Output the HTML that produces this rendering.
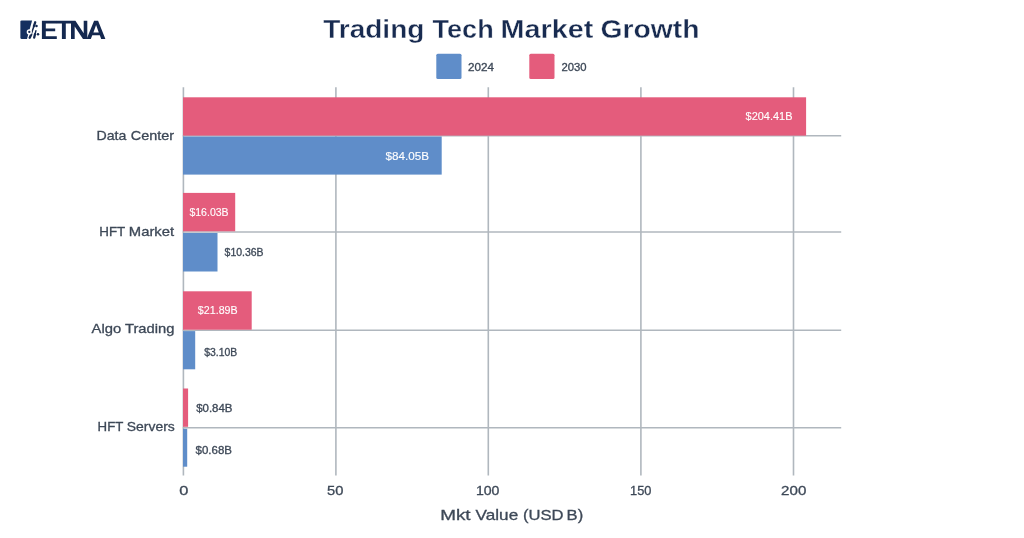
<!DOCTYPE html>
<html>
<head>
<meta charset="utf-8">
<title>Trading Tech Market Growth</title>
<style>
html,body{margin:0;padding:0;background:#fff;}
body{width:1024px;height:538px;overflow:hidden;font-family:"Liberation Sans",sans-serif;}
svg{display:block;will-change:transform;}
text{font-family:"Liberation Sans",sans-serif;}
</style>
</head>
<body>
<svg width="1024" height="538" viewBox="0 0 1024 538">
  <rect x="0" y="0" width="1024" height="538" fill="#ffffff"/>
  <g id="logo" fill="#14284f">
    <path d="M21.7 20.4 H32.1 L27.0 39.0 H21.7 Q20.4 39.0 20.4 37.8 V21.6 Q20.4 20.4 21.7 20.4 Z" fill="#15305f"/>
    <g stroke="#14284f" stroke-linecap="round" fill="none">
      <path d="M35.2 22.3 L33.9 26.2" stroke-width="2.3"/>
      <path d="M33.9 26.2 L31.2 34.2" stroke-width="1.5"/>
      <path d="M31.2 34.4 L29.7 37.7" stroke-width="2.4"/>
      <path d="M35.9 30.8 L35.0 34.2" stroke-width="1.4"/>
      <path d="M35.0 34.2 L34.2 37.6" stroke-width="2.3"/>
    </g>
    <circle cx="29.3" cy="31.9" r="2.6" fill="#ffffff"/>
    <circle cx="29.3" cy="31.9" r="1.15"/>
    <circle cx="36.5" cy="26.1" r="1.25"/>
    <circle cx="38.0" cy="34.3" r="1.25"/>
    <path d="M41.9 20.7 H57 V23.6 H45.8 V28.4 H55.2 V31.2 H45.8 V36.2 H56.8 V39 H41.9 Z"/>
    <path d="M56.9 20.7 H71.1 V23.6 H65.8 V39 H61.9 V23.6 H56.9 Z"/>
    <path d="M71 20.7 H75.4 L83.7 33.2 V20.7 H87.3 V39 H83.0 L74.7 26.6 V39 H71 Z"/>
    <path fill-rule="evenodd" d="M86.6 39 L94.1 20.7 H98.1 L105.4 39 H101.2 L99.8 35.2 H92.3 L90.8 39 Z M93.4 32.4 H98.8 L96.1 24.9 Z"/>
  </g>
  <rect x="436.3" y="53.8" width="25.2" height="25.2" rx="1.5" fill="#5f8dc9"/>
  <rect x="529.3" y="53.8" width="25.2" height="25.2" rx="1.5" fill="#e45c7c"/>
  <g stroke="#b0b7be" stroke-width="1.6" fill="none">
    <line x1="183.4" y1="87.3" x2="183.4" y2="475.6"/>
    <line x1="335.9" y1="87.3" x2="335.9" y2="475.6"/>
    <line x1="488.3" y1="87.3" x2="488.3" y2="475.6"/>
    <line x1="640.9" y1="87.3" x2="640.9" y2="475.6"/>
    <line x1="793.5" y1="87.3" x2="793.5" y2="475.6"/>
    <line x1="182.8" y1="135.75" x2="841.2" y2="135.75"/>
    <line x1="182.8" y1="232.0" x2="841.2" y2="232.0"/>
    <line x1="182.8" y1="330.3" x2="841.2" y2="330.3"/>
    <line x1="182.8" y1="427.8" x2="841.2" y2="427.8"/>
  </g>
  <g>
    <rect x="183.0" y="97.3" width="623.1" height="38.3" fill="#e45c7c"/>
    <rect x="183.0" y="136.5" width="258.7" height="38.1" fill="#5f8dc9"/>
    <rect x="183.0" y="192.9" width="52.2" height="38.4" fill="#e45c7c"/>
    <rect x="183.0" y="233.0" width="34.5" height="38.5" fill="#5f8dc9"/>
    <rect x="183.0" y="291.3" width="68.7" height="38.4" fill="#e45c7c"/>
    <rect x="183.0" y="331.1" width="12.2" height="38.2" fill="#5f8dc9"/>
    <rect x="183.0" y="388.5" width="5.1" height="38.3" fill="#e45c7c"/>
    <rect x="183.0" y="428.8" width="4.2" height="37.9" fill="#5f8dc9"/>
  </g>
  <text x="323.23" y="38.0" font-size="26.5" font-weight="bold" fill="#182b50" textLength="101.14" lengthAdjust="spacingAndGlyphs" stroke="#ffffff" stroke-width="0.35">Trading</text>
  <text x="432.56" y="38.0" font-size="26.5" font-weight="bold" fill="#182b50" textLength="61.17" lengthAdjust="spacingAndGlyphs" stroke="#ffffff" stroke-width="0.35">Tech</text>
  <text x="500.55" y="38.0" font-size="26.5" font-weight="bold" fill="#182b50" textLength="92.77" lengthAdjust="spacingAndGlyphs" stroke="#ffffff" stroke-width="0.35">Market</text>
  <text x="600.44" y="38.0" font-size="26.5" font-weight="bold" fill="#182b50" textLength="99.12" lengthAdjust="spacingAndGlyphs" stroke="#ffffff" stroke-width="0.35">Growth</text>
  <text x="468.01" y="70.9" font-size="10.2" fill="#3d4857" textLength="25.93" lengthAdjust="spacingAndGlyphs" stroke="#3d4857" stroke-width="0.3">2024</text>
  <text x="561.49" y="70.9" font-size="10.2" fill="#3d4857" textLength="25.08" lengthAdjust="spacingAndGlyphs" stroke="#3d4857" stroke-width="0.3">2030</text>
  <text x="96.55" y="140.0" font-size="13" fill="#3d4857" textLength="29.87" lengthAdjust="spacingAndGlyphs" stroke="#3d4857" stroke-width="0.3">Data</text>
  <text x="130.81" y="140.0" font-size="13" fill="#3d4857" textLength="43.31" lengthAdjust="spacingAndGlyphs" stroke="#3d4857" stroke-width="0.3">Center</text>
  <text x="99.34" y="235.8" font-size="13" fill="#3d4857" textLength="25.94" lengthAdjust="spacingAndGlyphs" stroke="#3d4857" stroke-width="0.3">HFT</text>
  <text x="128.82" y="235.8" font-size="13" fill="#3d4857" textLength="45.28" lengthAdjust="spacingAndGlyphs" stroke="#3d4857" stroke-width="0.3">Market</text>
  <text x="91.63" y="333.4" font-size="13" fill="#3d4857" textLength="29.58" lengthAdjust="spacingAndGlyphs" stroke="#3d4857" stroke-width="0.3">Algo</text>
  <text x="125.00" y="333.4" font-size="13" fill="#3d4857" textLength="49.42" lengthAdjust="spacingAndGlyphs" stroke="#3d4857" stroke-width="0.3">Trading</text>
  <text x="97.62" y="431.3" font-size="13" fill="#3d4857" textLength="25.72" lengthAdjust="spacingAndGlyphs" stroke="#3d4857" stroke-width="0.3">HFT</text>
  <text x="126.80" y="431.3" font-size="13" fill="#3d4857" textLength="47.93" lengthAdjust="spacingAndGlyphs" stroke="#3d4857" stroke-width="0.3">Servers</text>
  <text x="745.64" y="120.1" font-size="10.2" fill="#ffffff" textLength="46.84" lengthAdjust="spacingAndGlyphs" stroke="#ffffff" stroke-width="0.12">$204.41B</text>
  <text x="385.48" y="159.7" font-size="10.2" fill="#ffffff" textLength="43.49" lengthAdjust="spacingAndGlyphs" stroke="#ffffff" stroke-width="0.12">$84.05B</text>
  <text x="189.42" y="215.9" font-size="10.2" fill="#ffffff" textLength="39.23" lengthAdjust="spacingAndGlyphs" stroke="#ffffff" stroke-width="0.12">$16.03B</text>
  <text x="224.61" y="256.1" font-size="10.2" fill="#3d4857" textLength="38.96" lengthAdjust="spacingAndGlyphs" stroke="#3d4857" stroke-width="0.3">$10.36B</text>
  <text x="197.87" y="314.4" font-size="10.2" fill="#ffffff" textLength="39.77" lengthAdjust="spacingAndGlyphs" stroke="#ffffff" stroke-width="0.12">$21.89B</text>
  <text x="204.21" y="355.9" font-size="10.2" fill="#3d4857" textLength="32.98" lengthAdjust="spacingAndGlyphs" stroke="#3d4857" stroke-width="0.3">$3.10B</text>
  <text x="196.17" y="411.8" font-size="10.2" fill="#3d4857" textLength="36.37" lengthAdjust="spacingAndGlyphs" stroke="#3d4857" stroke-width="0.3">$0.84B</text>
  <text x="195.58" y="454.1" font-size="10.2" fill="#3d4857" textLength="36.40" lengthAdjust="spacingAndGlyphs" stroke="#3d4857" stroke-width="0.3">$0.68B</text>
  <text x="179.30" y="494.5" font-size="12.6" fill="#3d4857" textLength="9.11" lengthAdjust="spacingAndGlyphs" stroke="#3d4857" stroke-width="0.3">0</text>
  <text x="327.12" y="494.5" font-size="12.6" fill="#3d4857" textLength="16.35" lengthAdjust="spacingAndGlyphs" stroke="#3d4857" stroke-width="0.3">50</text>
  <text x="475.90" y="494.5" font-size="12.6" fill="#3d4857" textLength="23.51" lengthAdjust="spacingAndGlyphs" stroke="#3d4857" stroke-width="0.3">100</text>
  <text x="630.12" y="494.5" font-size="12.6" fill="#3d4857" textLength="21.34" lengthAdjust="spacingAndGlyphs" stroke="#3d4857" stroke-width="0.3">150</text>
  <text x="781.14" y="494.5" font-size="12.6" fill="#3d4857" textLength="25.17" lengthAdjust="spacingAndGlyphs" stroke="#3d4857" stroke-width="0.3">200</text>
  <text x="440.18" y="519.9" font-size="15" fill="#3d4857" textLength="30.47" lengthAdjust="spacingAndGlyphs" stroke="#3d4857" stroke-width="0.3">Mkt</text>
  <text x="475.61" y="519.9" font-size="15" fill="#3d4857" textLength="42.57" lengthAdjust="spacingAndGlyphs" stroke="#3d4857" stroke-width="0.3">Value</text>
  <text x="522.93" y="519.9" font-size="15" fill="#3d4857" textLength="40.57" lengthAdjust="spacingAndGlyphs" stroke="#3d4857" stroke-width="0.3">(USD</text>
  <text x="566.55" y="519.9" font-size="15" fill="#3d4857" textLength="16.61" lengthAdjust="spacingAndGlyphs" stroke="#3d4857" stroke-width="0.3">B)</text>
</svg>
</body>
</html>
